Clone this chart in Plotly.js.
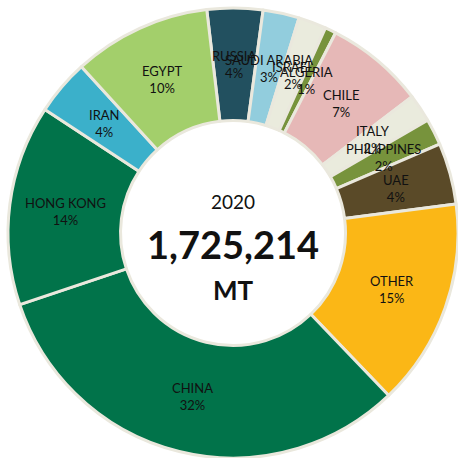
<!DOCTYPE html>
<html>
<head>
<meta charset="utf-8">
<script src="https://cdn.plot.ly/plotly-3.0.1.min.js"></script>
<style>html,body{margin:0;padding:0;background:#fff;}#chart{width:458px;height:458px;}</style>
</head>
<body>
<div id="chart"></div>
<script>
// ---- data ----
var countries = ['RUSSIA','SAUDI ARABIA','ISRAEL','ALGERIA','CHILE','ITALY','PHILIPPINES','UAE','OTHER','CHINA','HONG KONG','IRAN','EGYPT'];
var volumesMT = [69000, 44900, 34500, 13800, 122500, 34500, 32800, 75900, 257000, 552100, 248400, 69000, 170814];
var centerYear = '2020';
var centerTotal = '1,725,214';
var centerUnit = 'MT';

// ---- styles ----
var sliceColors = ['#22505F','#92CDDD','#EAEBDD','#77933C','#E6B8B7','#EAEBDD','#77933C','#5A4A28','#FBB716','#01734A','#01734A','#3BB0CA','#A3CF6B'];
var borderColor = '#EAE8DD';
var W = 458, H = 458;
var dom = {x:[0.0175, 1], y:[0.0, 0.9825]};
var hole = 0.5;
var rotation = -6.7;
var fontFam = 'Lato, "Open Sans", sans-serif';

var total = volumesMT.reduce(function(a,b){return a+b;},0);
var cx = (dom.x[0]+dom.x[1])/2*W;
var cy = (1-(dom.y[0]+dom.y[1])/2)*H;
var R = Math.min((dom.x[1]-dom.x[0])*W, (dom.y[1]-dom.y[0])*H)/2;
var rMid = R*(1+hole)/2;

function note(x, y, text, size){
  return {x:x, y:y, xref:'paper', yref:'paper', xanchor:'center', yanchor:'middle',
    showarrow:false, text:text, align:'center', font:{family:fontFam, size:size, color:'#111'}};
}

var annotations = [];
var cum = 0;
volumesMT.forEach(function(v,i){
  var a = (rotation + (cum + v/2)/total*360) * Math.PI/180;
  cum += v;
  var px = cx + rMid*Math.sin(a), py = cy - rMid*Math.cos(a);
  annotations.push(note(px/W, 1-py/H, countries[i] + '<br>' + Math.round(v/total*100) + '%', 13));
});
annotations.push(note(cx/W, 1-201/H, centerYear, 19));
annotations.push(note(cx/W, 1-244/H, '<b>'+centerTotal+'</b>', 38));
annotations.push(note(cx/W, 1-290/H, '<b>'+centerUnit+'</b>', 26));

var trace = {
  type:'pie', labels:countries, values:volumesMT, sort:false, direction:'clockwise',
  rotation:rotation, hole:hole, domain:dom,
  marker:{colors:sliceColors, line:{color:borderColor, width:3}},
  textinfo:'none', hoverinfo:'label+percent', showlegend:false
};
Plotly.newPlot('chart', [trace], {
  width:W, height:H, margin:{l:0,r:0,t:0,b:0},
  paper_bgcolor:'#fff', plot_bgcolor:'#fff', showlegend:false,
  annotations:annotations
}, {staticPlot:true});
</script>
</body>
</html>
